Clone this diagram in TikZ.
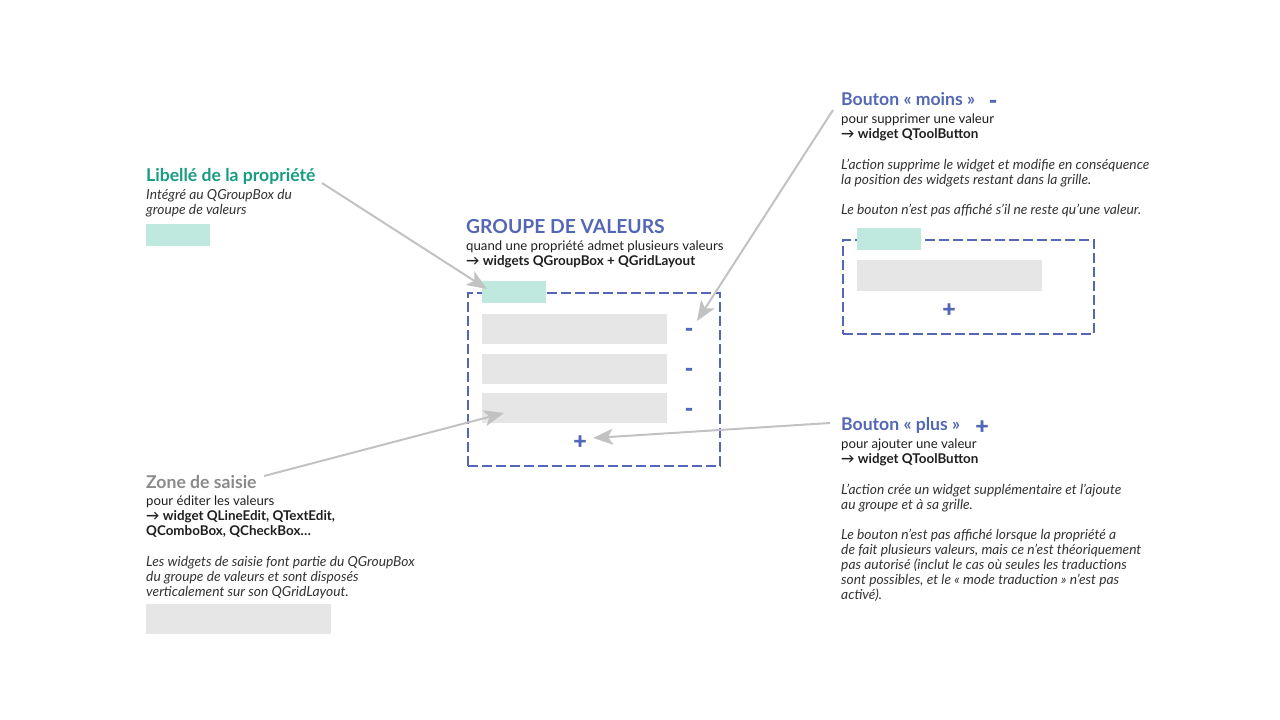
\documentclass[tikz,border=0pt]{standalone}
\usepackage{fontspec}
\setmainfont{Lato}
\newfontfamily\symfont[BoldFeatures={FakeBold=2.5}]{Lato}
\usetikzlibrary{arrows.meta}
\definecolor{grpblue}{HTML}{5467B6}
\definecolor{labgreen}{HTML}{179C80}
\definecolor{labfill}{HTML}{BFE9DF}
\definecolor{fieldgray}{HTML}{E6E6E6}
\definecolor{zonegray}{HTML}{8A8A8A}
\definecolor{arrowgray}{HTML}{C2C2C2}
\definecolor{txt}{HTML}{1E1E1E}
\definecolor{txtit}{HTML}{333333}
% strong line inside a description block
\newcommand{\strongline}[1]{{\fontsize{13.4}{15}\selectfont\bfseries #1}}
\begin{document}
\begin{tikzpicture}[x=1pt,y=-1pt,
  body/.style={anchor=base west, inner sep=0pt, align=left, text=txt,
    font=\fontsize{13.2}{15}\selectfont},
  note/.style={anchor=base west, inner sep=0pt, align=left, text=txtit,
    font=\fontsize{13.8}{15}\selectfont\itshape},
  title/.style={anchor=base west, inner sep=0pt,
    font=\fontsize{17.6}{19}\selectfont\bfseries},
  field/.style={fill=fieldgray, draw=none, inner sep=0pt, anchor=north west},
  labelbox/.style={fill=labfill, draw=none, inner sep=0pt, anchor=north west,
    minimum width=64pt, minimum height=22pt},
  group/.style={draw=grpblue, line width=2pt, dash pattern=on 10pt off 4pt,
    fill=none, inner sep=0pt, anchor=north west},
  sym/.style={text=grpblue, inner sep=0pt, font=\fontsize{22}{22}\selectfont\symfont\bfseries},
  pointer/.style={draw=arrowgray, line width=2pt,
    -{Stealth[length=20pt,width=16pt,inset=5pt]}},
]
\useasboundingbox (0,0) rectangle (1280,720);

% ---- property label ----
\node[title, text=labgreen] (libtitle) at (146,181) {Libellé de la propriété};
\node[note] (libtext) at (146,214)
  {Intégré au QGroupBox du\\groupe de valeurs};
\node[labelbox] (libbox) at (146,224) {};

% ---- value group ----
\node[title, text=grpblue, font=\fontsize{19.3}{22}\selectfont\bfseries] (grptitle) at (466,233) {GROUPE DE VALEURS};
\node[body] (grptext) at (466,265)
  {quand une propriété admet plusieurs valeurs\\\strongline{→ widgets QGroupBox + QGridLayout}};
\node[group, minimum width=252pt, minimum height=173pt] (grp) at (467,292) {};
\node[labelbox] (grplab) at (482,281) {};
\node[field, minimum width=185pt, minimum height=30pt] (f1) at (482,314) {};
\node[field, minimum width=185pt, minimum height=30pt] (f2) at (482,354) {};
\node[field, minimum width=185pt, minimum height=30pt] (f3) at (482,393) {};
\node[sym] (m1) at (689,332) {-};
\node[sym] (m2) at (689,372) {-};
\node[sym] (m3) at (689,412) {-};
\node[sym] (p1) at (580,442) {+};

% ---- minus button ----
\node[title, text=grpblue] (mintitle) at (841,105) {Bouton « moins »};
\node[sym] (minsym) at (993,104) {-};
\node[body] (mintext) at (841,138)
  {pour supprimer une valeur\\\strongline{→ widget QToolButton}};
\node[note] (minnote) at (841,214)
  {L'action supprime le widget et modifie en conséquence\\la position des widgets restant dans la grille.\\[15pt]Le bouton n'est pas affiché s'il ne reste qu'une valeur.};

% ---- single value group ----
\node[group, minimum width=251pt, minimum height=94pt] (grp2) at (842,239) {};
\node[labelbox] (grp2lab) at (857,228) {};
\node[field, minimum width=185pt, minimum height=31pt] (g2f1) at (857,260) {};
\node[sym] (p2) at (949,310) {+};

% ---- plus button ----
\node[title, text=grpblue] (plustitle) at (841,430) {Bouton « plus »};
\node[sym] (plussym) at (982,427) {+};
\node[body] (plustext) at (841,463)
  {pour ajouter une valeur\\\strongline{→ widget QToolButton}};
\node[note] (plusnote) at (841,599)
  {L'action crée un widget supplémentaire et l'ajoute\\au groupe et à sa grille.\\[15pt]Le bouton n'est pas affiché lorsque la propriété a\\de fait plusieurs valeurs, mais ce n'est théoriquement\\pas autorisé (inclut le cas où seules les traductions\\sont possibles, et le « mode traduction » n'est pas\\activé).};

% ---- input zone ----
\node[title, text=zonegray] (zonetitle) at (146,488) {Zone de saisie};
\node[body] (zonetext) at (146,535)
  {pour éditer les valeurs\\\strongline{→ widget QLineEdit, QTextEdit,}\\\strongline{QComboBox, QCheckBox…}};
\node[note] (zonenote) at (146,596)
  {Les widgets de saisie font partie du QGroupBox\\du groupe de valeurs et sont disposés\\verticalement sur son QGridLayout.};
\node[field, minimum width=185pt, minimum height=30pt] (zonebox) at (146,604) {};

% ---- pointers ----
\coordinate (a1s) at (322,183);
\coordinate (a1e) at (487,289);
\coordinate (a2s) at (833,110);
\coordinate (a2e) at (697,321);
\coordinate (a3s) at (264,476);
\coordinate (a3e) at (504,413);
\coordinate (a4s) at (830,423);
\coordinate (a4e) at (593,438);
\draw[pointer] (a1s) -- (a1e);
\draw[pointer] (a2s) -- (a2e);
\draw[pointer] (a3s) -- (a3e);
\draw[pointer] (a4s) -- (a4e);
\end{tikzpicture}
\end{document}
